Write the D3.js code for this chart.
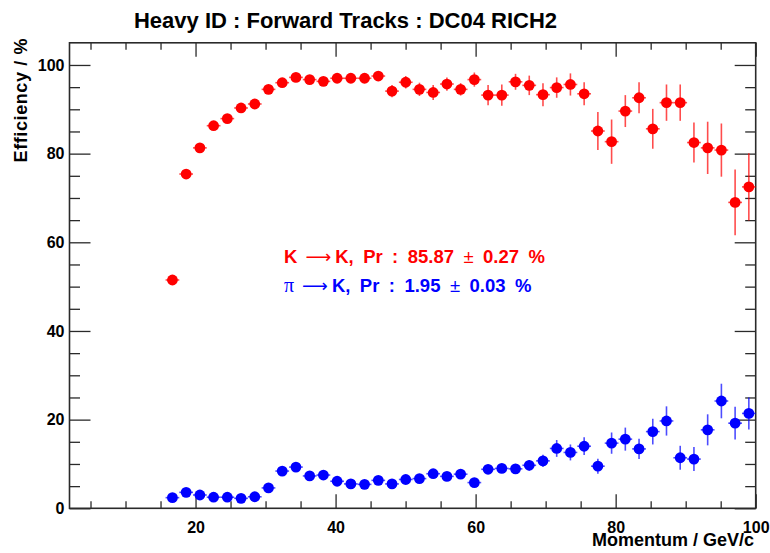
<!DOCTYPE html>
<html>
<head>
<meta charset="utf-8">
<script src="https://cdn.jsdelivr.net/npm/d3@7"></script>
<style>
  html, body { margin: 0; padding: 0; background: #fff; }
  svg { display: block; font-family: "Liberation Sans", Arial, sans-serif; }
</style>
</head>
<body>
<svg id="chart" width="770" height="553"></svg>
<script>
// Momentum bin centres (GeV/c); each bin is 1.96 GeV/c wide
const momentum = [16.70, 18.66, 20.62, 22.58, 24.54, 26.50, 28.46, 30.42, 32.38, 34.34,
  36.30, 38.26, 40.22, 42.18, 44.14, 46.10, 48.06, 50.02, 51.98, 53.94,
  55.90, 57.86, 59.82, 61.78, 63.74, 65.70, 67.66, 69.62, 71.58, 73.54,
  75.50, 77.46, 79.42, 81.38, 83.34, 85.30, 87.26, 89.22, 91.18, 93.14,
  95.10, 97.06, 99.02];
const binHalfWidth = 0.98;

// K -> K efficiency (%) and its uncertainty
const kaonEff = [51.5, 75.4, 81.3, 86.3, 87.9, 90.3, 91.2, 94.5, 96.0, 97.2,
  96.7, 96.3, 97.0, 97.0, 97.0, 97.5, 94.1, 96.1, 94.5, 93.8,
  95.7, 94.5, 96.7, 93.2, 93.2, 96.2, 95.4, 93.3, 94.9, 95.6,
  93.5, 85.1, 82.7, 89.6, 92.6, 85.6, 91.5, 91.5, 82.5, 81.3,
  80.8, 69.0, 72.5];
const kaonErr = [0.5, 0.5, 0.5, 0.5, 0.5, 0.6, 0.6, 0.6, 0.6, 0.6,
  0.7, 0.7, 0.8, 0.8, 0.9, 0.9, 1.4, 1.4, 1.5, 1.7,
  1.5, 1.4, 1.6, 2.3, 2.4, 1.8, 2.2, 2.6, 2.3, 2.5,
  2.6, 4.3, 5.0, 3.6, 3.5, 4.5, 4.1, 4.1, 4.5, 5.9,
  6.0, 7.4, 7.6];

// pi -> K misidentification (%) and its uncertainty
const pionEff = [2.4, 3.6, 3.0, 2.5, 2.5, 2.25, 2.6, 4.6, 8.4, 9.3,
  7.3, 7.5, 6.1, 5.5, 5.4, 6.3, 5.5, 6.5, 6.7, 7.8,
  7.2, 7.7, 5.8, 8.8, 9.0, 8.9, 9.7, 10.7, 13.5, 12.6,
  14.0, 9.5, 14.7, 15.6, 13.4, 17.3, 19.7, 11.4, 11.1, 17.7,
  24.2, 19.2, 21.4];
const pionErr = [0.2, 0.2, 0.2, 0.2, 0.2, 0.2, 0.2, 0.3, 0.4, 0.4,
  0.4, 0.4, 0.4, 0.4, 0.5, 0.5, 0.5, 0.6, 0.6, 0.7,
  0.7, 0.8, 0.8, 1.0, 1.0, 1.1, 1.2, 1.4, 1.9, 1.8,
  2.0, 1.7, 2.4, 2.6, 2.3, 2.9, 3.3, 2.7, 2.7, 3.5,
  3.9, 3.7, 3.6];

const xMajorTicks = [20, 40, 60, 80, 100];
const yMajorTicks = [0, 20, 40, 60, 80, 100];

const titleText = "Heavy ID : Forward Tracks : DC04 RICH2";
const xTitle = "Momentum / GeV/c";
const yTitle = "Efficiency / %";

const svg = d3.select("#chart");
const x = d3.scaleLinear().domain([2, 100]).range([69.5, 755.7]);
const y = d3.scaleLinear().domain([0, 105]).range([508.3, 42.8]);

const frameColor = "#2a2a2a";
const x0 = x.range()[0], x1 = x.range()[1];
const y0 = y.range()[0], y1 = y.range()[1];

// axes with inward-pointing ticks
function styleAxis(g) {
  g.select(".domain").remove();
  g.selectAll(".tick line").attr("stroke", frameColor).attr("stroke-width", 1.3);
  g.selectAll("text").attr("fill", "#000").attr("font-weight", "bold")
    .attr("font-size", 16).attr("font-family", "Liberation Sans, Arial, sans-serif");
}
const xMinor = d3.range(5, 100, 5).filter(v => !xMajorTicks.includes(v));
const yMinor = d3.range(5, 105, 5).filter(v => !yMajorTicks.includes(v));

svg.append("g").attr("transform", `translate(0,${y0})`)
  .call(d3.axisBottom(x).tickValues(xMajorTicks).tickSizeInner(-14).tickSizeOuter(0).tickPadding(13))
  .call(styleAxis).call(g => g.selectAll("text").attr("dy", "0.71em").attr("y", 13.5));
svg.append("g").attr("transform", `translate(0,${y0})`)
  .call(d3.axisBottom(x).tickValues(xMinor).tickSizeInner(-7).tickSizeOuter(0).tickFormat(""))
  .call(styleAxis);
svg.append("g").attr("transform", `translate(0,${y1})`)
  .call(d3.axisTop(x).tickValues(xMajorTicks).tickSizeInner(-14).tickSizeOuter(0).tickFormat(""))
  .call(styleAxis);
svg.append("g").attr("transform", `translate(0,${y1})`)
  .call(d3.axisTop(x).tickValues(xMinor).tickSizeInner(-7).tickSizeOuter(0).tickFormat(""))
  .call(styleAxis);

svg.append("g").attr("transform", `translate(${x0},0)`)
  .call(d3.axisLeft(y).tickValues(yMajorTicks).tickSizeInner(-21).tickSizeOuter(0).tickPadding(5))
  .call(styleAxis);
svg.append("g").attr("transform", `translate(${x0},0)`)
  .call(d3.axisLeft(y).tickValues(yMinor).tickSizeInner(-10.5).tickSizeOuter(0).tickFormat(""))
  .call(styleAxis);
svg.append("g").attr("transform", `translate(${x1},0)`)
  .call(d3.axisRight(y).tickValues(yMajorTicks).tickSizeInner(-21).tickSizeOuter(0).tickFormat(""))
  .call(styleAxis);
svg.append("g").attr("transform", `translate(${x1},0)`)
  .call(d3.axisRight(y).tickValues(yMinor).tickSizeInner(-10.5).tickSizeOuter(0).tickFormat(""))
  .call(styleAxis);

// plot frame
svg.append("rect")
  .attr("x", x0).attr("y", y1).attr("width", x1 - x0).attr("height", y0 - y1)
  .attr("fill", "none").attr("stroke", frameColor).attr("stroke-width", 1.6);

// data series: error bars plus filled circular markers
function drawSeries(values, errors, color) {
  const pts = momentum.map((m, i) => ({ m, v: values[i], e: errors[i] }));
  const g = svg.append("g");
  g.selectAll("line.v").data(pts).join("line")
    .attr("x1", d => x(d.m)).attr("x2", d => x(d.m))
    .attr("y1", d => y(d.v - d.e)).attr("y2", d => y(d.v + d.e))
    .attr("stroke", color).attr("stroke-width", 1.6).attr("stroke-opacity", 0.7);
  g.selectAll("line.h").data(pts).join("line")
    .attr("x1", d => x(d.m - binHalfWidth)).attr("x2", d => x(d.m + binHalfWidth))
    .attr("y1", d => y(d.v)).attr("y2", d => y(d.v))
    .attr("stroke", color).attr("stroke-width", 1.6).attr("stroke-opacity", 0.7);
  g.selectAll("circle").data(pts).join("circle")
    .attr("cx", d => x(d.m)).attr("cy", d => y(d.v)).attr("r", 5.4)
    .attr("fill", color);
}
drawSeries(kaonEff, kaonErr, "#ff0000");
drawSeries(pionEff, pionErr, "#0000ff");

// title
svg.append("text").attr("x", 345.5).attr("y", 28.3).attr("text-anchor", "middle")
  .attr("font-size", 22).attr("font-weight", "bold").attr("fill", "#000")
  .text(titleText);

// axis titles
svg.append("text").attr("x", 754).attr("y", 546).attr("text-anchor", "end")
  .attr("font-size", 18).attr("font-weight", "bold").attr("fill", "#000")
  .text(xTitle);
svg.append("text").attr("transform", "translate(26.5,38) rotate(-90)")
  .attr("text-anchor", "end").attr("letter-spacing", 0.6)
  .attr("font-size", 18).attr("font-weight", "bold").attr("fill", "#000")
  .text(yTitle);

// efficiency summary lines
function summary(yPos, color, lead, leadFont, rest, err) {
  const t = svg.append("text").attr("x", 284).attr("y", yPos)
    .attr("font-size", 18.5).attr("font-weight", "bold").attr("fill", color)
    .attr("word-spacing", 4.3);
  const l = t.append("tspan").text(lead);
  if (leadFont) l.attr("font-family", leadFont).attr("font-weight", "normal").attr("font-size", 20);
  t.append("tspan").attr("dx", 8).attr("font-weight", "normal")
    .attr("font-family", "DejaVu Sans, sans-serif").attr("font-size", 18)
    .text("\u27f6");
  t.append("tspan").attr("dx", 4).text(rest + " ");
  t.append("tspan").attr("font-weight", "normal").text("\u00b1");
  t.append("tspan").text(" " + err + " %");
}
summary(263.3, "#ff0000", "K", null, "K, Pr : 85.87", "0.27");
summary(292.3, "#0000ff", "\u03c0", "Liberation Serif, serif", "K, Pr : 1.95", "0.03");
</script>
</body>
</html>
